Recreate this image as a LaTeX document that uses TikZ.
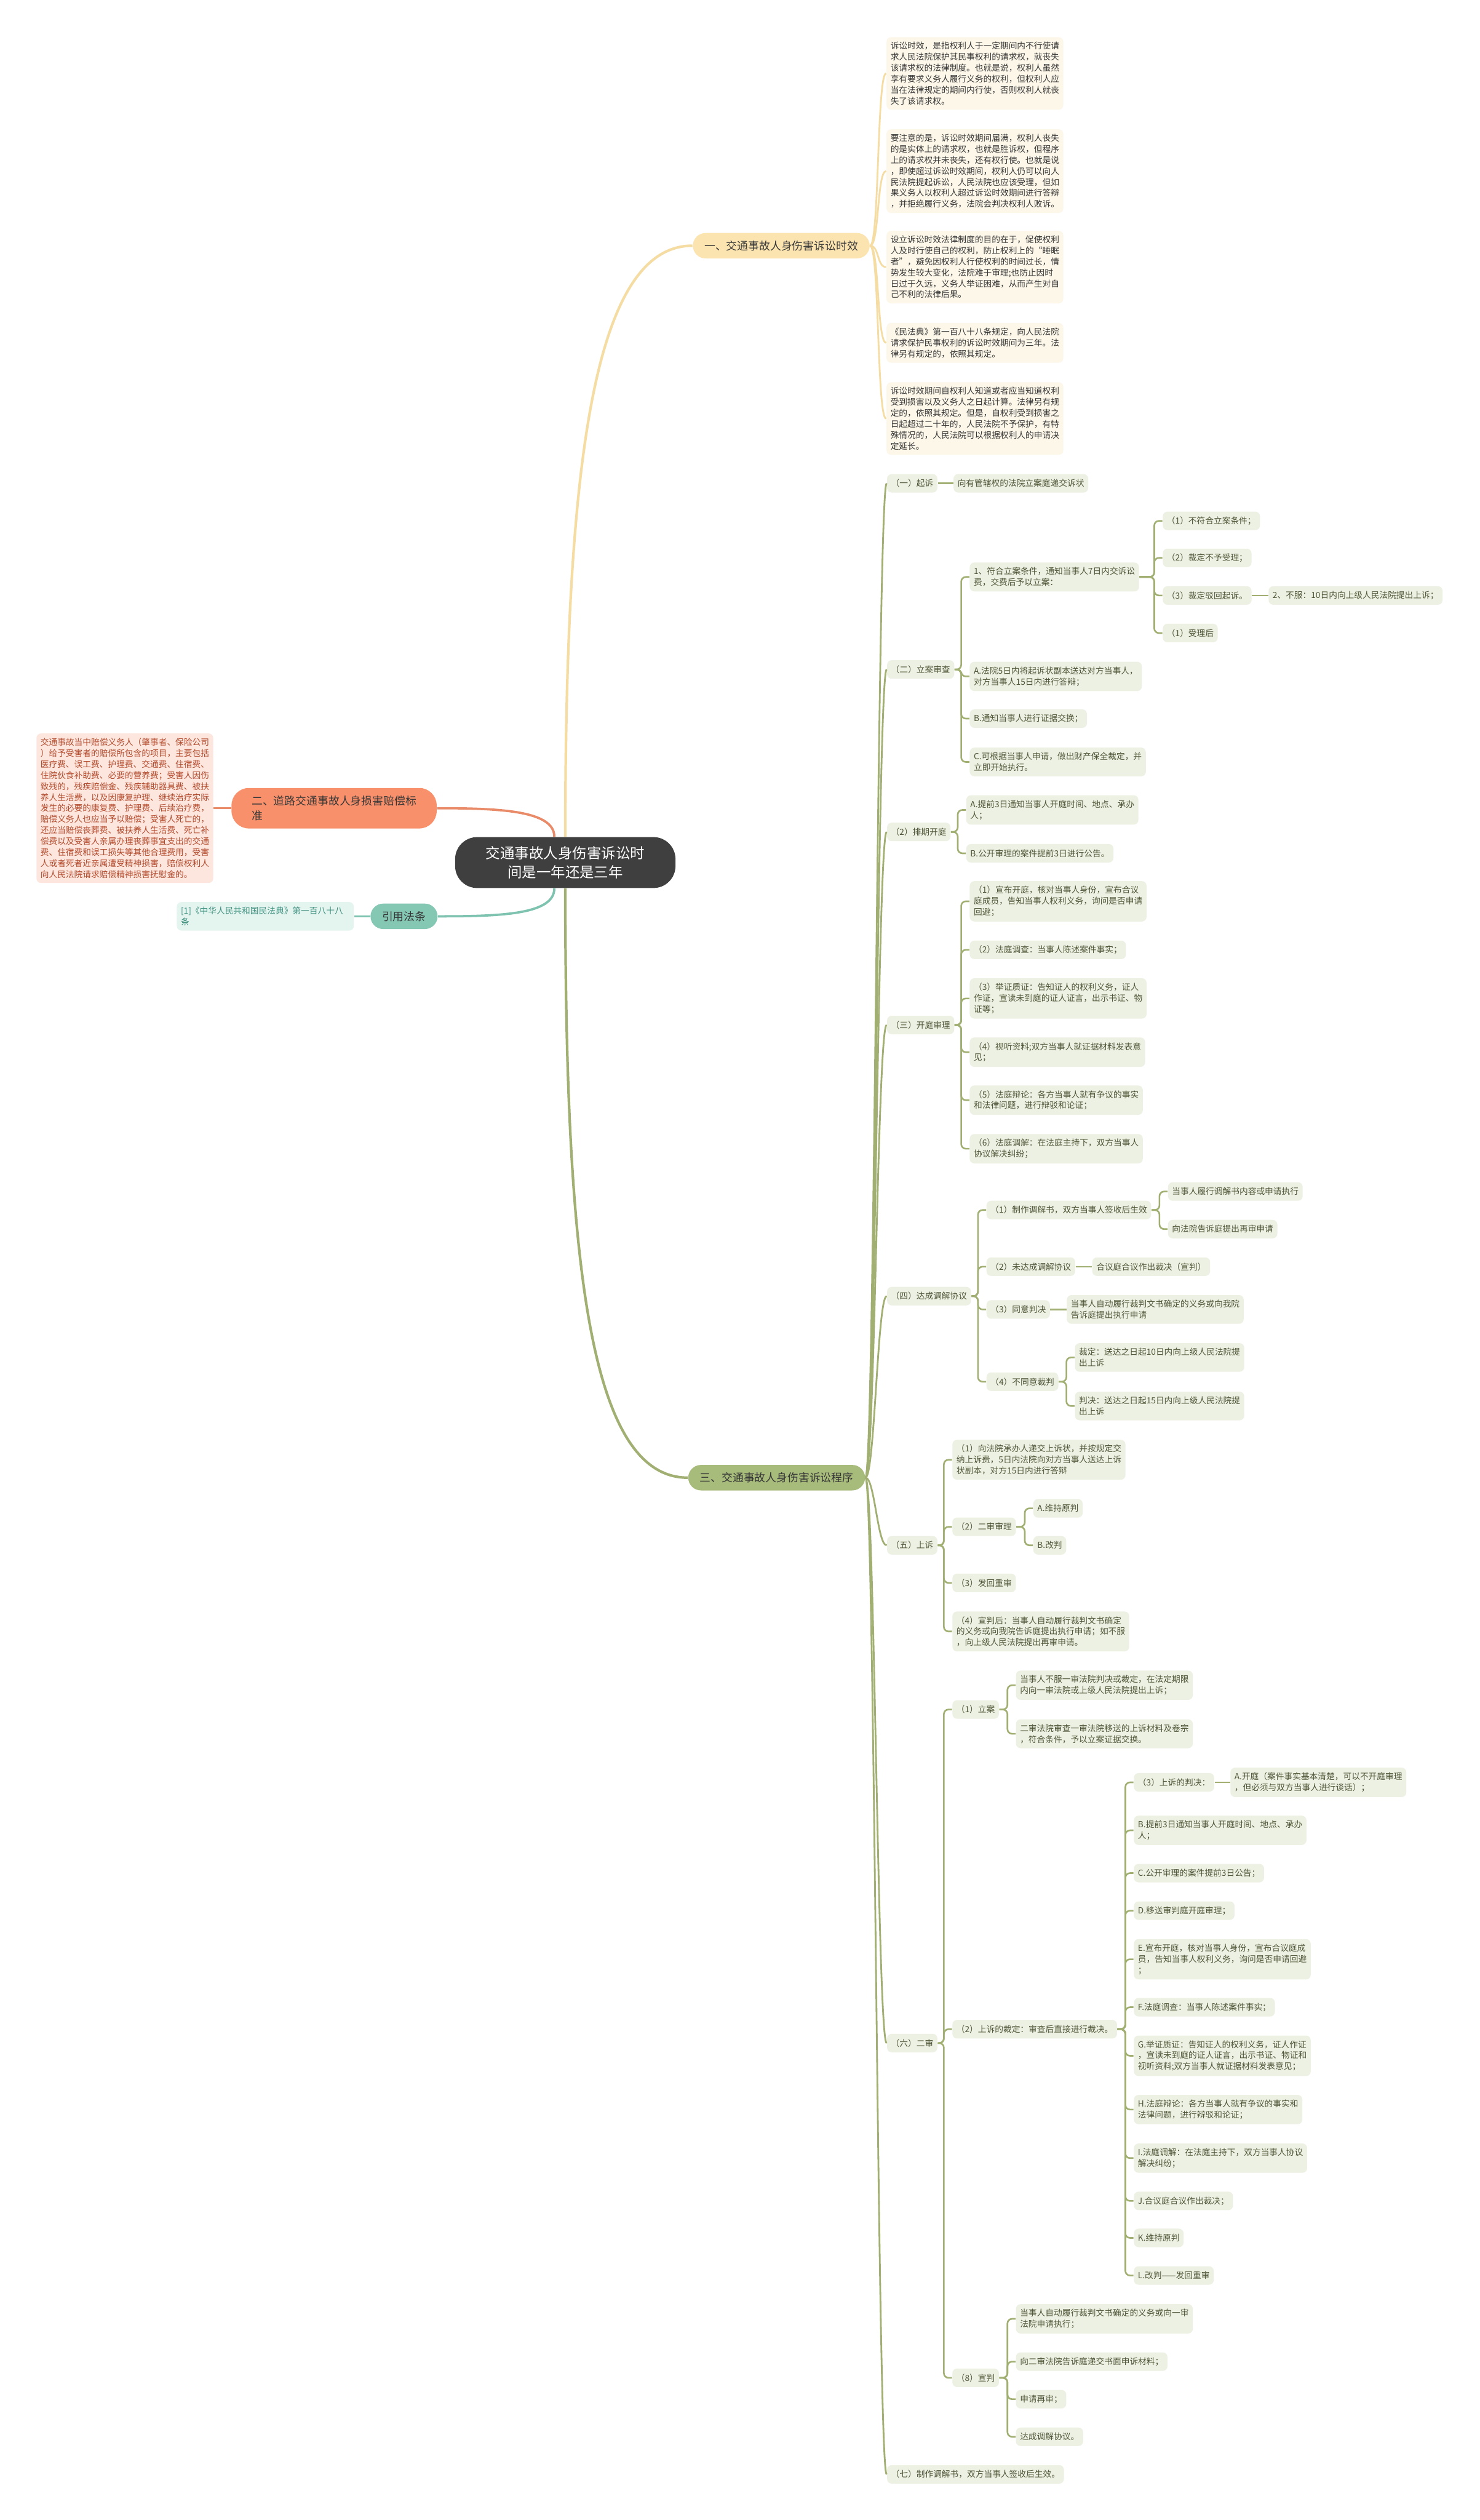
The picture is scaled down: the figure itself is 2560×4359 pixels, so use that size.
\documentclass[tikz,border=0pt]{standalone}
\usepackage{fontspec}
\setmainfont{Noto Sans CJK SC}
\definecolor{cRoot}{HTML}{3F3F3F}
\definecolor{cDark}{HTML}{363636}
\definecolor{cYfill}{HTML}{FCE4B0}
\definecolor{cYline}{HTML}{F5DCA3}
\definecolor{cYleaf}{HTML}{FDF7E9}
\definecolor{cOfill}{HTML}{F7906B}
\definecolor{cOline}{HTML}{E98B69}
\definecolor{cOleaf}{HTML}{FDE6DE}
\definecolor{cOtext}{HTML}{B24A2C}
\definecolor{cTfill}{HTML}{84C8B4}
\definecolor{cTline}{HTML}{7EC3AF}
\definecolor{cTleaf}{HTML}{E4F5EF}
\definecolor{cTtext}{HTML}{3D8E7E}
\definecolor{cGfill}{HTML}{A7BB7B}
\definecolor{cGline}{HTML}{A1B072}
\definecolor{cGleaf}{HTML}{EDF1E3}
\definecolor{cGtext}{HTML}{4F5537}
\begin{document}
\begin{tikzpicture}[x=0.01cm, y=-0.01cm,
  leaf/.style={anchor=west, align=left, rounded corners=0.08cm, inner xsep=0.07cm,
    inner ysep=0.085cm, minimum height=0.32cm, font=\fontsize{4.15pt}{5.4pt}\selectfont},
  yleaf/.style={leaf, fill=cYleaf, text=cDark},
  gleaf/.style={leaf, fill=cGleaf, text=cGtext},
  pill/.style={rounded corners=0.22cm, inner xsep=0.2cm, minimum height=0.44cm,
    font=\fontsize{5.4pt}{7.1pt}\selectfont, text=cDark, align=left},
  ylink/.style={draw=cYline, line width=0.03cm},
  glink/.style={draw=cGline, line width=0.028cm, rounded corners=0.08cm}]
\fill[white] (0,0) rectangle (2560,4359);
\useasboundingbox (0,0) rectangle (2560,4359);

\node[fill=cRoot, text=white, rounded corners=0.38cm, align=center, minimum width=3.81cm,
  minimum height=0.88cm, font=\fontsize{7.1pt}{9.1pt}\selectfont] (root) at (978,1492)
  {交通事故人身伤害诉讼时\\间是一年还是三年};

\node[pill, fill=cYfill, anchor=west] (s1) at (1198,425) {一、交通事故人身伤害诉讼时效};
\node[pill, fill=cOfill, inner xsep=0.35cm, minimum height=0.7cm, rounded corners=0.3cm] (s2) at (578,1398) {二、道路交通事故人身损害赔偿标\\准};
\node[pill, fill=cTfill] (ref) at (699,1585) {引用法条};
\node[pill, fill=cGfill, anchor=west] (s3) at (1190,2556) {三、交通事故人身伤害诉讼程序};

\draw[draw=cYline, line width=0.045cm] (root.north) .. controls +(0,-650) and +(-170,0) .. (s1.west);
\draw[draw=cGline, line width=0.045cm] (root.south) .. controls +(0,650) and +(-170,0) .. (s3.west);
\draw[draw=cOline, line width=0.04cm] ([xshift=-0.19cm]root.north) .. controls +(0,-45) and +(110,0) .. (s2.east);
\draw[draw=cTline, line width=0.04cm] ([xshift=-0.19cm]root.south) .. controls +(0,45) and +(110,0) .. (ref.east);

\node[yleaf] (y1) at (1533,127) {诉讼时效，是指权利人于一定期间内不行使请\\求人民法院保护其民事权利的请求权，就丧失\\该请求权的法律制度。也就是说，权利人虽然\\享有要求义务人履行义务的权利，但权利人应\\当在法律规定的期间内行使，否则权利人就丧\\失了该请求权。};
\node[yleaf] (y2) at (1533,296) {要注意的是，诉讼时效期间届满，权利人丧失\\的是实体上的请求权，也就是胜诉权，但程序\\上的请求权并未丧失，还有权行使。也就是说\\，即使超过诉讼时效期间，权利人仍可以向人\\民法院提起诉讼，人民法院也应该受理，但如\\果义务人以权利人超过诉讼时效期间进行答辩\\，并拒绝履行义务，法院会判决权利人败诉。};
\node[yleaf] (y3) at (1533,462) {设立诉讼时效法律制度的目的在于，促使权利\\人及时行使自己的权利，防止权利上的“睡眠\\者”，避免因权利人行使权利的时间过长，情\\势发生较大变化，法院难于审理;也防止因时\\日过于久远，义务人举证困难，从而产生对自\\己不利的法律后果。};
\node[yleaf] (y4) at (1533,593) {《民法典》第一百八十八条规定，向人民法院\\请求保护民事权利的诉讼时效期间为三年。法\\律另有规定的，依照其规定。};
\node[yleaf] (y5) at (1533,724) {诉讼时效期间自权利人知道或者应当知道权利\\受到损害以及义务人之日起计算。法律另有规\\定的，依照其规定。但是，自权利受到损害之\\日起超过二十年的，人民法院不予保护，有特\\殊情况的，人民法院可以根据权利人的申请决\\定延长。};
\foreach \cn in {y1,y2,y3,y4,y5}
  \draw[ylink] (s1.east) .. controls +(16,0) and +(-16,0) .. (\cn.west);

\node[leaf, anchor=center, fill=cOleaf, text=cOtext] (ob) at (216,1398) {交通事故当中赔偿义务人（肇事者、保险公司\\）给予受害者的赔偿所包含的项目，主要包括\\医疗费、误工费、护理费、交通费、住宿费、\\住院伙食补助费、必要的营养费；受害人因伤\\致残的，残疾赔偿金、残疾辅助器具费、被扶\\养人生活费，以及因康复护理、继续治疗实际\\发生的必要的康复费、护理费、后续治疗费，\\赔偿义务人也应当予以赔偿；受害人死亡的，\\还应当赔偿丧葬费、被扶养人生活费、死亡补\\偿费以及受害人亲属办理丧葬事宜支出的交通\\费、住宿费和误工损失等其他合理费用，受害\\人或者死者近亲属遭受精神损害，赔偿权利人\\向人民法院请求赔偿精神损害抚慰金的。};
\node[leaf, anchor=center, fill=cTleaf, text=cTtext, text width=2.92cm] (tb) at (459,1585) {[1]《中华人民共和国民法典》第一百八十八\\条};
\draw[draw=cOline, line width=0.03cm] (s2.west) -- (ob.east);
\draw[draw=cTline, line width=0.03cm] (ref.west) -- (tb.east);

\node[gleaf] (a) at (1534,836) {（一）起诉};
\node[gleaf] (a1) at (1649,836) {向有管辖权的法院立案庭递交诉状};

\node[gleaf] (b) at (1534,1158) {（二）立案审查};
\node[gleaf] (b1) at (1677,998) {1、符合立案条件，通知当事人7日内交诉讼\\费，交费后予以立案：};
\node[gleaf] (b1a) at (2011,901) {（1）不符合立案条件；};
\node[gleaf] (b1b) at (2011,965) {（2）裁定不予受理；};
\node[gleaf] (b1c) at (2011,1030) {（3）裁定驳回起诉。};
\node[gleaf] (b1c1) at (2194,1030) {2、不服：10日内向上级人民法院提出上诉；};
\node[gleaf] (b1d) at (2011,1095) {（1）受理后};
\node[gleaf] (b2) at (1677,1170) {A.法院5日内将起诉状副本送达对方当事人，\\对方当事人15日内进行答辩；};
\node[gleaf] (b3) at (1677,1243) {B.通知当事人进行证据交换；};
\node[gleaf] (b4) at (1677,1318) {C.可根据当事人申请，做出财产保全裁定，并\\立即开始执行。};

\node[gleaf] (c) at (1534,1439) {（2）排期开庭};
\node[gleaf] (c1) at (1671,1401) {A.提前3日通知当事人开庭时间、地点、承办\\人；};
\node[gleaf] (c2) at (1671,1476) {B.公开审理的案件提前3日进行公告。};

\node[gleaf] (d) at (1534,1773) {（三）开庭审理};
\node[gleaf] (d1) at (1677,1559) {（1）宣布开庭，核对当事人身份，宣布合议\\庭成员，告知当事人权利义务，询问是否申请\\回避；};
\node[gleaf] (d2) at (1677,1643) {（2）法庭调查：当事人陈述案件事实；};
\node[gleaf] (d3) at (1677,1727) {（3）举证质证：告知证人的权利义务，证人\\作证，宣读未到庭的证人证言，出示书证、物\\证等；};
\node[gleaf] (d4) at (1677,1820) {（4）视听资料;双方当事人就证据材料发表意\\见；};
\node[gleaf] (d5) at (1677,1903) {（5）法庭辩论：各方当事人就有争议的事实\\和法律问题，进行辩驳和论证；};
\node[gleaf] (d6) at (1677,1987) {（6）法庭调解：在法庭主持下，双方当事人\\协议解决纠纷；};

\node[gleaf] (e) at (1534,2242) {（四）达成调解协议};
\node[gleaf] (e1) at (1706,2093) {（1）制作调解书，双方当事人签收后生效};
\node[gleaf] (e1a) at (2020,2061) {当事人履行调解书内容或申请执行};
\node[gleaf] (e1b) at (2020,2126) {向法院告诉庭提出再审申请};
\node[gleaf] (e2) at (1706,2191) {（2）未达成调解协议};
\node[gleaf] (e2a) at (1889,2191) {合议庭合议作出裁决（宣判）};
\node[gleaf] (e3) at (1706,2265) {（3）同意判决};
\node[gleaf] (e3a) at (1845,2265) {当事人自动履行裁判文书确定的义务或向我院\\告诉庭提出执行申请};
\node[gleaf] (e4) at (1706,2390) {（4）不同意裁判};
\node[gleaf] (e4a) at (1859,2348) {裁定：送达之日起10日内向上级人民法院提\\出上诉};
\node[gleaf] (e4b) at (1859,2432) {判决：送达之日起15日内向上级人民法院提\\出上诉};

\node[gleaf] (f) at (1534,2673) {（五）上诉};
\node[gleaf] (f1) at (1647,2525) {（1）向法院承办人递交上诉状，并按规定交\\纳上诉费，5日内法院向对方当事人送达上诉\\状副本，对方15日内进行答辩};
\node[gleaf] (f2) at (1647,2641) {（2）二审审理};
\node[gleaf] (f2a) at (1787,2609) {A.维持原判};
\node[gleaf] (f2b) at (1787,2673) {B.改判};
\node[gleaf] (f3) at (1647,2738) {（3）发回重审};
\node[gleaf] (f4) at (1647,2822) {（4）宣判后：当事人自动履行裁判文书确定\\的义务或向我院告诉庭提出执行申请；如不服\\，向上级人民法院提出再审申请。};

\node[gleaf] (g) at (1534,3534) {（六）二审};
\node[gleaf] (g1) at (1647,2957) {（1）立案};
\node[gleaf] (g1a) at (1757,2915) {当事人不服一审法院判决或裁定，在法定期限\\内向一审法院或上级人民法院提出上诉；};
\node[gleaf] (g1b) at (1757,2999) {二审法院审查一审法院移送的上诉材料及卷宗\\，符合条件，予以立案证据交换。};
\node[gleaf] (g2) at (1647,3510) {（2）上诉的裁定：审查后直接进行裁决。};
\node[gleaf] (g2a) at (1961,3083) {（3）上诉的判决：};
\node[gleaf] (g2a1) at (2128,3083) {A.开庭（案件事实基本清楚，可以不开庭审理\\，但必须与双方当事人进行谈话）；};
\node[gleaf] (g2b) at (1961,3166) {B.提前3日通知当事人开庭时间、地点、承办\\人；};
\node[gleaf] (g2c) at (1961,3240) {C.公开审理的案件提前3日公告；};
\node[gleaf] (g2d) at (1961,3305) {D.移送审判庭开庭审理；};
\node[gleaf] (g2e) at (1961,3389) {E.宣布开庭，核对当事人身份，宣布合议庭成\\员，告知当事人权利义务，询问是否申请回避\\；};
\node[gleaf] (g2f) at (1961,3472) {F.法庭调查：当事人陈述案件事实；};
\node[gleaf] (g2g) at (1961,3556) {G.举证质证：告知证人的权利义务，证人作证\\，宣读未到庭的证人证言，出示书证、物证和\\视听资料;双方当事人就证据材料发表意见；};
\node[gleaf] (g2h) at (1961,3649) {H.法庭辩论：各方当事人就有争议的事实和\\法律问题，进行辩驳和论证；};
\node[gleaf] (g2i) at (1961,3733) {I.法庭调解：在法庭主持下，双方当事人协议\\解决纠纷；};
\node[gleaf] (g2j) at (1961,3807) {J.合议庭合议作出裁决；};
\node[gleaf] (g2k) at (1961,3871) {K.维持原判};
\node[gleaf] (g2l) at (1961,3936) {L.改判——发回重审};
\node[gleaf] (g3) at (1647,4113) {（8）宣判};
\node[gleaf] (g3a) at (1757,4011) {当事人自动履行裁判文书确定的义务或向一审\\法院申请执行；};
\node[gleaf] (g3b) at (1757,4085) {向二审法院告诉庭递交书面申诉材料；};
\node[gleaf] (g3c) at (1757,4150) {申请再审；};
\node[gleaf] (g3d) at (1757,4215) {达成调解协议。};

\node[gleaf] (h) at (1534,4280) {（七）制作调解书，双方当事人签收后生效。};

\foreach \cn in {a,b,c,d,e,f,g,h}
  \draw[glink, line width=0.03cm] (s3.east) .. controls +(16,0) and +(-16,0) .. (\cn.west);
\foreach \pn/\cn in {a/a1, b1c/b1c1, e2/e2a, e3/e3a, g2a/g2a1}
  \draw[glink] (\pn.east) -- (\cn.west);
\foreach \pn/\cn in {b/b1, b/b2, b/b3, b/b4, b1/b1a, b1/b1b, b1/b1c, b1/b1d,
    c/c1, c/c2, d/d1, d/d2, d/d3, d/d4, d/d5, d/d6,
    e/e1, e/e2, e/e3, e/e4, e1/e1a, e1/e1b, e4/e4a, e4/e4b,
    f/f1, f/f2, f/f3, f/f4, f2/f2a, f2/f2b,
    g/g1, g/g2, g/g3, g1/g1a, g1/g1b,
    g2/g2a, g2/g2b, g2/g2c, g2/g2d, g2/g2e, g2/g2f, g2/g2g, g2/g2h, g2/g2i, g2/g2j, g2/g2k, g2/g2l,
    g3/g3a, g3/g3b, g3/g3c, g3/g3d}
  \draw[glink] (\pn.east) -| ([xshift=-4pt]\cn.west) -- (\cn.west);
\end{tikzpicture}
\end{document}
